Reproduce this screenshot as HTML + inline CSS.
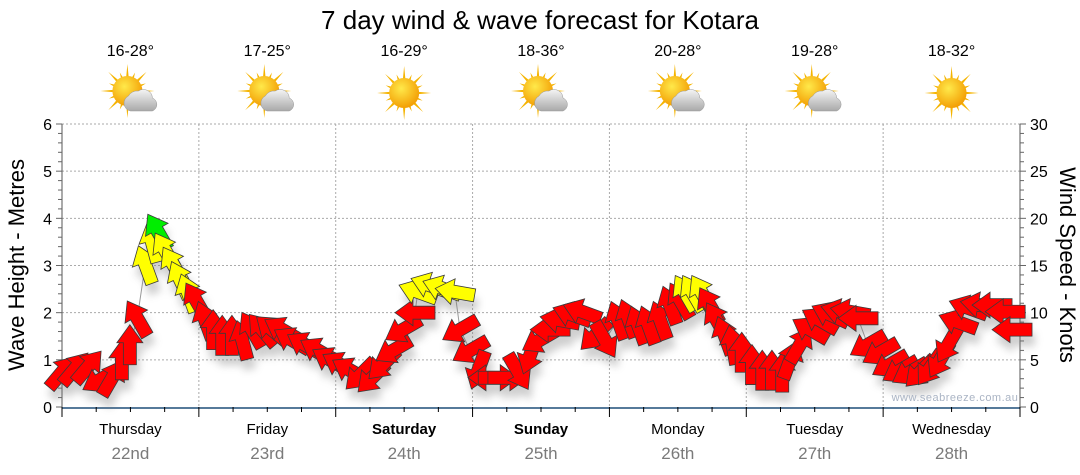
<!DOCTYPE html>
<html><head><meta charset="utf-8"><style>
body{margin:0;background:#fff;}
svg{display:block;font-family:"Liberation Sans",sans-serif;}
</style></head><body>
<svg id="chart" width="1080" height="475" viewBox="0 0 1080 475">
<defs>
<filter id="sh" x="-50%" y="-50%" width="200%" height="200%"><feGaussianBlur stdDeviation="4"/></filter>
<radialGradient id="sun" cx="40%" cy="35%" r="70%"><stop offset="0" stop-color="#ffe94a"/><stop offset="1" stop-color="#f29a00"/></radialGradient>
<linearGradient id="cloud" x1="0" y1="0" x2="0" y2="1"><stop offset="0" stop-color="#f4f4f4"/><stop offset="1" stop-color="#a9a9a9"/></linearGradient>
</defs>
<text x="540" y="29" text-anchor="middle" font-size="26" fill="#000">7 day wind &amp; wave forecast for Kotara</text>
<g id="days"></g>
<g id="grid"></g>
<g id="axes"></g>
<g id="series"></g>
<text x="955" y="401" text-anchor="middle" font-size="11" fill="#aab4c4" letter-spacing="0.5">www.seabreeze.com.au</text>
<text transform="translate(24,265) rotate(-90)" text-anchor="middle" font-size="22" fill="#000">Wave Height - Metres</text>
<text transform="translate(1060,265) rotate(90)" text-anchor="middle" font-size="22" fill="#000">Wind Speed - Knots</text>
</svg>
<script>
const dayNames=["Thursday","Friday","Saturday","Sunday","Monday","Tuesday","Wednesday"];
const dayDates=["22nd","23rd","24th","25th","26th","27th","28th"];
const boldDays=[false,false,true,true,false,false,false];
const temps=["16-28°","17-25°","16-29°","18-36°","20-28°","19-28°","18-32°"];
const cloudy=[true,true,false,true,true,true,false];
const leftTicks=[0,1,2,3,4,5,6];
const rightTicks=[0,5,10,15,20,25,30];
// wind series: hours from Thursday 00:00, speed (knots), arrow direction (deg, 0=up), colour class
const hours=[0,2.3,4.6,6.7,8.8,10.5,11.9,13.2,14.6,15.8,16.8,18.1,19.5,20.7,22.1,23.5,
25.1,26.5,28.1,29.8,31.6,33.3,35.1,36.8,38.6,40.3,42.6,44.9,47.0,
48.8,50.5,52.3,54.4,56.3,58.1,59.8,61.9,62.4,64.5,66.6,68.9,69.8,71.6,73.0,
74.7,76.5,78.2,80.0,82.1,83.8,85.6,87.3,89.4,91.2,93.5,95.2,
97.5,99.3,101.0,102.8,104.9,106.6,108.4,109.3,110.6,112.2,113.6,114.8,116.2,117.6,119.2,
121.0,122.8,124.5,126.3,127.7,129.4,131.2,132.9,134.7,136.5,138.2,139.6,141.3,143.5,
145.2,147.0,148.7,150.5,152.2,154.0,155.4,157.1,158.9,161.0,163.1,165.4,166.6];
const speeds=[3.7,4.1,4.3,2.9,3.1,5.0,6.6,9.4,15.1,17.4,18.6,16.6,15.1,13.5,12.1,11.3,
9.2,8.2,7.6,7.6,7.1,8.2,8.2,8.2,8.2,7.1,6.6,6.0,5.0,
4.5,3.9,3.4,3.1,4.5,6.0,8.2,10.0,12.2,12.9,12.6,12.2,8.2,6.0,3.9,
3.1,3.1,3.1,3.7,5.5,7.1,8.2,9.2,9.8,10.1,7.6,7.1,
9.2,9.4,8.7,8.7,9.2,10.8,11.3,12.1,12.1,12.1,10.8,9.2,7.6,6.6,5.8,
4.5,3.9,3.9,3.7,5.0,6.6,8.2,9.2,9.8,10.1,10.1,9.4,6.6,5.8,
4.5,3.9,3.7,3.7,4.1,5.0,6.6,9.0,10.5,10.8,10.8,10.1,8.2];
const dirs=[40,40,40,240,30,0,0,330,340,345,330,330,330,335,340,330,
340,0,0,0,345,330,320,310,300,300,300,300,300,
300,300,225,225,225,240,240,270,290,290,290,280,240,240,200,
270,90,90,150,200,240,270,280,290,290,225,150,
340,340,340,340,340,340,330,330,330,330,330,330,340,350,0,
0,0,0,0,20,30,300,300,295,285,280,270,240,240,
240,240,240,225,215,210,210,290,290,280,270,270,270];
const colours=["r","r","r","r","r","r","r","r","y","y","g","y","y","y","y","r",
"r","r","r","r","r","r","r","r","r","r","r","r","r",
"r","r","r","r","r","r","r","r","y","y","y","y","r","r","r",
"r","r","r","r","r","r","r","r","r","r","r","r",
"r","r","r","r","r","r","r","y","y","y","r","r","r","r","r",
"r","r","r","r","r","r","r","r","r","r","r","r","r","r",
"r","r","r","r","r","r","r","r","r","r","r","r","r"];
const X0=62,X1=1020,Y0=407,YT=124;
const xOf=h=>X0+h*(X1-X0)/168;
const yM=m=>Y0-m*(Y0-YT)/6;
const yK=k=>Y0-k*(Y0-YT)/30;
const NS="http://www.w3.org/2000/svg";
function mk(tag,attrs,parent){const e=document.createElementNS(NS,tag);for(const k in attrs)e.setAttribute(k,attrs[k]);parent.appendChild(e);return e;}
const grid=document.getElementById('grid'),axes=document.getElementById('axes'),days=document.getElementById('days'),series=document.getElementById('series');
leftTicks.forEach(t=>{if(t>0){const l=mk('line',{x1:X0,x2:X1,y1:yM(t),y2:yM(t),stroke:'#aaa','stroke-dasharray':'2,2'},grid);

}});
for(let d=1;d<7;d++){const l=mk('line',{x1:xOf(d*24),x2:xOf(d*24),y1:YT,y2:Y0,stroke:'#aaa','stroke-dasharray':'2,2'},grid);

}
mk('line',{x1:X0,x2:X0,y1:YT,y2:Y0,stroke:'#555'},axes);
for(let i=0;i<=30;i++){const y=yM(i/5);mk('line',{x1:X0-(i%5?4:6),x2:X0,y1:y,y2:y,stroke:'#666'},axes);}
leftTicks.forEach(t=>{const tx=mk('text',{x:X0-10,y:yM(t)+6,'text-anchor':'end','font-size':16,fill:'#000'},axes);tx.textContent=t;

});
mk('line',{x1:X1,x2:X1,y1:YT,y2:Y0,stroke:'#555'},axes);
for(let i=0;i<=30;i++){const y=yK(i);mk('line',{x1:X1,x2:X1+(i%5?4:6),y1:y,y2:y,stroke:'#666'},axes);}
rightTicks.forEach(t=>{const tx=mk('text',{x:X1+10,y:yK(t)+6,'font-size':16,fill:'#000'},axes);tx.textContent=t;

});
mk('line',{x1:X0,x2:X1,y1:Y0+1,y2:Y0+1,stroke:'#1f4e79','stroke-width':1.5},axes);
for(let h=0;h<=168;h+=6){mk('line',{x1:xOf(h),x2:xOf(h),y1:Y0,y2:Y0+(h%24?5:10),stroke:'#000'},axes);}
dayNames.forEach((n,i)=>{const cx=xOf(i*24+12);
const t=mk('text',{x:cx,y:434,'text-anchor':'middle','font-size':15,fill:'#000','font-weight':boldDays[i]?'bold':'normal'},axes);t.textContent=n;


const d=mk('text',{x:cx,y:459,'text-anchor':'middle','font-size':17,fill:'#7a7a7a'},axes);d.textContent=dayDates[i];


const tt=mk('text',{x:cx,y:56,'text-anchor':'middle','font-size':16,fill:'#000'},days);tt.textContent=temps[i];


const g=mk('g',{transform:`translate(${cx},93)`},days);


const sx=cloudy[i]?-3:0,sy=cloudy[i]?-2:0;
for(let a=0;a<16;a++){const ang=a*Math.PI/8,len=a%2?20:27;mk('polygon',{points:`${sx+Math.cos(ang-0.12)*12},${sy+Math.sin(ang-0.12)*12} ${sx+Math.cos(ang)*len},${sy+Math.sin(ang)*len} ${sx+Math.cos(ang+0.12)*12},${sy+Math.sin(ang+0.12)*12}`,fill:'#f5b400'},g);}
mk('circle',{cx:sx,cy:sy,r:15,fill:'url(#sun)'},g);
if(cloudy[i]){mk('path',{d:'M0,18 h22 a7,7 0 0 0 0,-13 a9,9 0 0 0 -14,-7 a10,10 0 0 0 -10,5 a8,8 0 0 0 2,15 z',fill:'url(#cloud)',stroke:'#999','stroke-width':0.5},g);}
});
const pts=hours.map((h,i)=>[xOf(h),yK(speeds[i])]);
const line=mk('polyline',{points:pts.map(p=>p.join(',')).join(' '),fill:'none',stroke:'#999','stroke-width':1},series);


const arrowPts="0,-20 13,-2 6.5,-2 6.5,20 -6.5,20 -6.5,-2 -13,-2";
const shg=mk('g',{filter:'url(#sh)',opacity:0.35},series);
pts.forEach((p,i)=>{mk('polygon',{points:arrowPts,fill:'#777',transform:`translate(${p[0]+3},${p[1]+10}) rotate(${dirs[i]})`},shg);});
const fills={r:'#ff0000',y:'#ffff00',g:'#00ee00'};
pts.forEach((p,i)=>{const a=mk('polygon',{points:arrowPts,fill:fills[colours[i]],stroke:'#3a3a3a','stroke-width':0.8,transform:`translate(${p[0]},${p[1]}) rotate(${dirs[i]})`},series);

});
</script>
</body></html>
